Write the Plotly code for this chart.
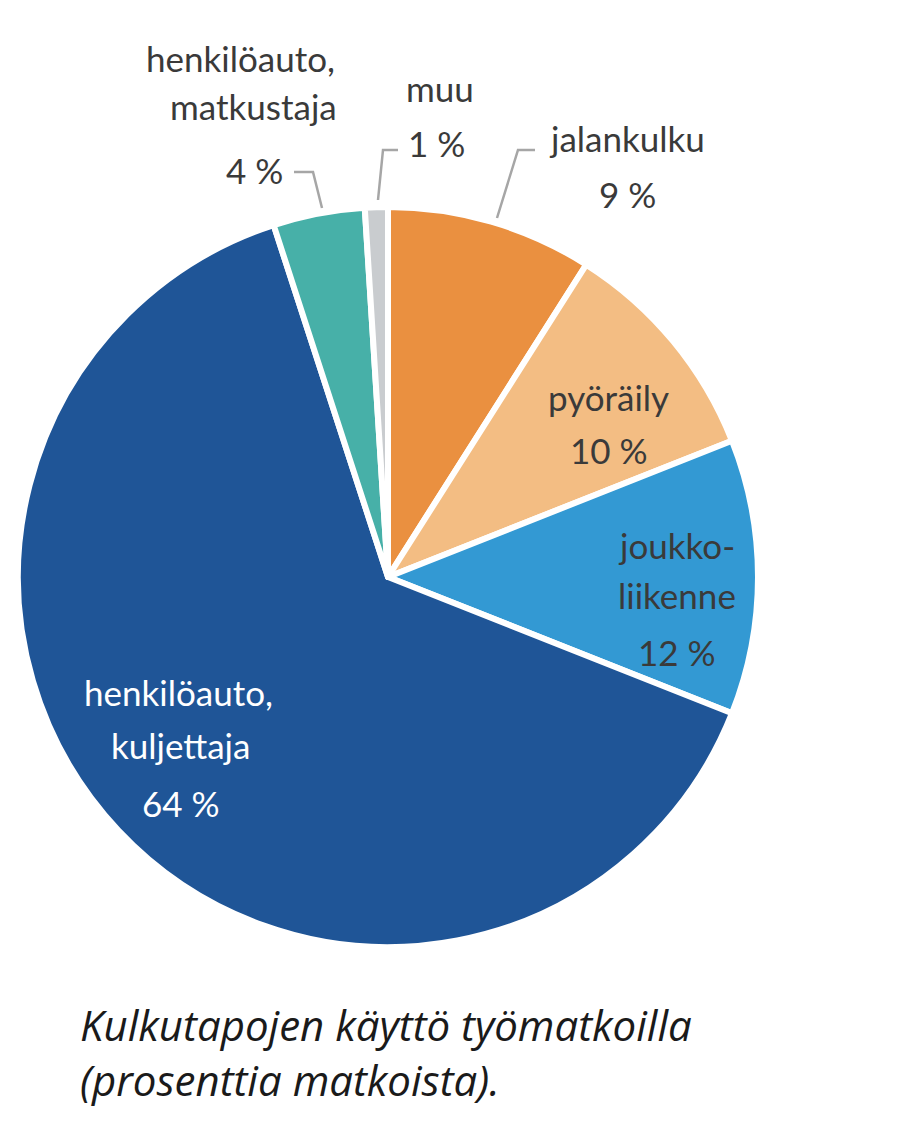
import plotly.graph_objects as go

W, H = 908, 1134

categories = ["jalankulku", "pyöräily", "joukkoliikenne", "henkilöauto, kuljettaja",
              "henkilöauto, matkustaja", "muu"]
values = [9, 10, 12, 64, 4, 1]
colors = ["#EA9040", "#F3BD83", "#3399D3", "#1F5597", "#47B0A8", "#C9CCCF"]

def px(x, y):
    return x / W, 1 - y / H

cx, cy, r = 388, 577, 370
x0, y0 = px(cx - r, cy - r)
x1, y1 = px(cx + r, cy + r)

fig = go.Figure(go.Pie(
    labels=categories, values=values, sort=False, direction="clockwise", rotation=0,
    marker=dict(colors=colors, line=dict(color="white", width=6)),
    textinfo="none", hoverinfo="label+percent", showlegend=False,
    domain=dict(x=[x0, x1], y=[y1, y0]),
))

FONT = "Lato"
dark = "#3A3A3A"
labels = [
    ("henkilöauto,", 240, 58, dark), ("matkustaja", 253, 106, dark), ("4 %", 254, 170, dark),
    ("muu", 440, 88, dark), ("1 %", 436, 143, dark),
    ("jalankulku", 627, 138, dark), ("9 %", 627, 194, dark),
    ("pyöräily", 608, 397, dark), ("10 %", 609, 450, dark),
    ("joukko-", 676, 545, dark), ("liikenne", 677, 595, dark), ("12 %", 677, 652, dark),
    ("henkilöauto,", 178, 692, "white"), ("kuljettaja", 180, 745, "white"), ("64 %", 181, 803, "white"),
]
ann = []
for t, x, y, c in labels:
    ax, ay = px(x, y)
    ann.append(dict(text=t, x=ax, y=ay, xref="paper", yref="paper", showarrow=False,
                    xanchor="center", yanchor="middle",
                    font=dict(family=FONT, size=35, color=c)))

title = "Kulkutapojen käyttö työmatkoilla<br>(prosenttia matkoista)."
ax, ay = px(78, 1052)
ann.append(dict(text="<i>" + title + "</i>", x=ax, y=ay, xref="paper", yref="paper",
                showarrow=False, xanchor="left", yanchor="middle", align="left",
                font=dict(family="Open Sans", size=42, color="#1A1A1A")))

leaders = [
    [(294, 172), (313, 172), (322, 208)],
    [(398, 150), (383, 150), (378, 200)],
    [(535, 150), (518, 150), (497, 218)],
]
shapes = []
for pts in leaders:
    path = "M " + " L ".join(f"{px(x, y)[0]},{px(x, y)[1]}" for x, y in pts)
    shapes.append(dict(type="path", path=path, xref="paper", yref="paper",
                       line=dict(color="#A6A6A6", width=2.5)))

fig.update_layout(width=W, height=H, margin=dict(l=0, r=0, t=0, b=0),
                  paper_bgcolor="white", plot_bgcolor="white",
                  annotations=ann, shapes=shapes)
fig.write_html("out.html")
